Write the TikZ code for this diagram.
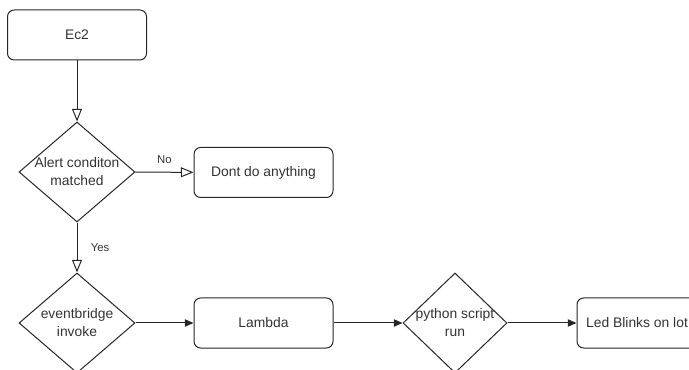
\documentclass[tikz,border=0pt]{standalone}
\usepackage{fontspec}
\setmainfont{Liberation Sans}
\usetikzlibrary{shapes.geometric,arrows.meta}

\tikzset{
  process/.style={draw=black!85, line width=0.75pt, rounded corners=5pt, minimum width=104.25pt, minimum height=37.5pt, inner sep=0pt, font=\fontsize{10.4}{12}\selectfont, text=black!80},
  decision/.style={draw=black!85, line width=0.75pt, diamond, minimum width=87pt, minimum height=75pt, inner sep=0pt},
  decisiontext/.style={align=center, inner sep=0pt, font=\fontsize{10.4}{13.5}\selectfont, text=black!80},
  openarrow/.style={draw=black!85, line width=0.75pt, -{Triangle[open, length=9.5pt, width=7.5pt]}},
  fillarrow/.style={draw=black!85, line width=0.75pt, -{Triangle[length=6.5pt, width=5.5pt]}},
  edgelabel/.style={font=\fontsize{8.5}{10}\selectfont, text=black!80, inner sep=0pt}
}

\begin{document}
\begin{tikzpicture}[x=0.75pt,y=0.75pt,yscale=-1,xscale=1]
                \useasboundingbox (0,0) rectangle (689,370);
                % boxes
                \node[process] (ec2) at (77,35) {Ec2};
                \node[process] (nothing) at (263.5,172.5) {Dont do anything};
                \node[process] (lambda) at (263.5,323) {Lambda};
                \node[process, minimum width=90pt] (led) at (637,323) {Led Blinks on lot};
                % decisions
                \node[decision] (alert) at (77,172) {};
                \node[decisiontext] at (alert) {Alert conditon\\matched};
                \node[decision] (bridge) at (77,323) {};
                \node[decisiontext] at (bridge) {eventbridge\\invoke};
                \node[decision, minimum width=78pt] (script) at (455,323) {};
                \node[decisiontext] at (script) {python script\\run};
                % connectors
                \draw[openarrow] (ec2) -- (alert);
                \draw[openarrow] (alert) -- node[edgelabel, above=6pt] {No} (nothing);
                \draw[openarrow] (alert) -- node[edgelabel, right=10pt] {Yes} (bridge);
                \draw[fillarrow] (bridge) -- (lambda);
                \draw[fillarrow] (lambda) -- (script);
                \draw[fillarrow] (script) -- (led);
            \end{tikzpicture}
\end{document}
